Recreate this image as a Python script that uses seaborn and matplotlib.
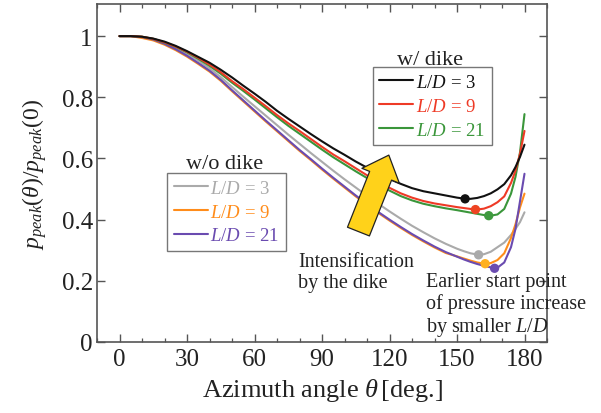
import numpy as np
import pandas as pd
import matplotlib
matplotlib.use("Agg")
import matplotlib.pyplot as plt
import seaborn as sns
from matplotlib.lines import Line2D
from matplotlib.patches import FancyArrowPatch, ArrowStyle
from matplotlib.ticker import MultipleLocator, FuncFormatter

# ---------------- data ----------------
theta = [0, 5, 10, 15, 20, 25, 30, 35, 40, 45, 50, 55, 60, 65, 70, 75, 80, 85, 90,
         95, 100, 105, 110, 115, 120, 125, 130, 135, 140, 145, 150, 153, 156, 159,
         162, 165, 168, 171, 174, 176, 178, 180]

dike_ld3 = [1.000, 1.000, 0.998, 0.992, 0.982, 0.968, 0.951, 0.932, 0.913, 0.890,
            0.865, 0.838, 0.812, 0.785, 0.756, 0.730, 0.705, 0.680, 0.656, 0.633,
            0.612, 0.590, 0.570, 0.551, 0.533, 0.517, 0.503, 0.493, 0.486, 0.479,
            0.472, 0.469, 0.468, 0.471, 0.477, 0.486, 0.499, 0.516, 0.545, 0.572,
            0.605, 0.645]
dike_ld9 = [1.000, 1.000, 0.998, 0.991, 0.980, 0.966, 0.949, 0.929, 0.907, 0.882,
            0.853, 0.827, 0.799, 0.771, 0.742, 0.715, 0.690, 0.664, 0.638, 0.613,
            0.591, 0.568, 0.545, 0.524, 0.504, 0.486, 0.472, 0.461, 0.453, 0.447,
            0.441, 0.438, 0.435, 0.433, 0.436, 0.444, 0.457, 0.476, 0.520, 0.560,
            0.615, 0.690]
dike_ld21 = [1.000, 1.000, 0.998, 0.991, 0.979, 0.965, 0.947, 0.926, 0.903, 0.877,
             0.848, 0.821, 0.793, 0.764, 0.735, 0.707, 0.681, 0.655, 0.629, 0.604,
             0.581, 0.558, 0.536, 0.515, 0.495, 0.477, 0.463, 0.452, 0.444, 0.437,
             0.431, 0.427, 0.423, 0.419, 0.415, 0.413, 0.417, 0.435, 0.485, 0.540,
             0.620, 0.745]
nodike_ld3 = [1.000, 1.000, 0.997, 0.990, 0.977, 0.961, 0.942, 0.920, 0.895, 0.866,
              0.834, 0.802, 0.771, 0.740, 0.709, 0.678, 0.648, 0.618, 0.589, 0.560,
              0.532, 0.505, 0.478, 0.452, 0.427, 0.403, 0.380, 0.359, 0.339, 0.321,
              0.305, 0.297, 0.290, 0.286, 0.287, 0.295, 0.310, 0.325, 0.350, 0.370,
              0.392, 0.424]
nodike_ld9 = [1.000, 1.000, 0.994, 0.986, 0.972, 0.954, 0.933, 0.909, 0.884, 0.854,
              0.820, 0.787, 0.754, 0.721, 0.689, 0.657, 0.625, 0.595, 0.564, 0.534,
              0.505, 0.476, 0.449, 0.422, 0.397, 0.373, 0.350, 0.329, 0.309, 0.291,
              0.280, 0.273, 0.266, 0.260, 0.256, 0.258, 0.268, 0.290, 0.340, 0.385,
              0.440, 0.485]
nodike_ld21 = [1.000, 1.000, 0.997, 0.989, 0.975, 0.957, 0.936, 0.912, 0.887, 0.857,
               0.823, 0.790, 0.757, 0.724, 0.692, 0.660, 0.628, 0.598, 0.567, 0.537,
               0.508, 0.479, 0.452, 0.425, 0.400, 0.376, 0.353, 0.332, 0.312, 0.294,
               0.279, 0.270, 0.262, 0.255, 0.249, 0.244, 0.243, 0.260, 0.310, 0.370,
               0.460, 0.550]

# minimum points (dots)
min_theta = [153.6, 158.2, 164.1, 159.6, 162.5, 166.7]
min_value = [0.468, 0.433, 0.413, 0.285, 0.256, 0.241]

series_names = ["dike3", "dike9", "dike21", "nodike3", "nodike9", "nodike21"]
series_vals = [dike_ld3, dike_ld9, dike_ld21, nodike_ld3, nodike_ld9, nodike_ld21]
ld_labels = ["3", "9", "21", "3", "9", "21"]
colors = {"dike3": "#111111", "dike9": "#EE3A26", "dike21": "#3A963A",
          "nodike3": "#AAAAAA", "nodike9": "#FF8C1A", "nodike21": "#6A4BB0"}
dot_colors = {"dike3": "#111111", "dike9": "#EE4422", "dike21": "#3F9A3F",
              "nodike3": "#AAAAAA", "nodike9": "#FFB020", "nodike21": "#6A4BB0"}

df = pd.DataFrame({
    "theta": np.tile(theta, len(series_names)),
    "ratio": np.concatenate(series_vals),
    "series": np.repeat(series_names, len(theta)),
})
dots = pd.DataFrame({"theta": min_theta, "ratio": min_value, "series": series_names})

# ---------------- style ----------------
sns.set_theme(style="ticks")
plt.rcParams["font.family"] = ["Liberation Serif", "DejaVu Serif"]
plt.rcParams["mathtext.fontset"] = "custom"
plt.rcParams["mathtext.rm"] = "Liberation Serif"
plt.rcParams["mathtext.it"] = "Liberation Serif:italic"
plt.rcParams["mathtext.bf"] = "Liberation Serif:bold"

fig = plt.figure(figsize=(6.01, 4.14), dpi=100)
ax = fig.add_axes([97 / 601, 1 - 343 / 414, 450 / 601, 338 / 414])

draw_order = ["nodike3", "nodike9", "nodike21", "dike21", "dike9", "dike3"]
for name in draw_order:
    sub = df[df["series"] == name]
    sns.lineplot(data=sub, x="theta", y="ratio", color=colors[name], lw=1.5,
                 estimator=None, sort=False, legend=False, ax=ax, zorder=3)

sns.scatterplot(data=dots, x="theta", y="ratio", hue="series", palette=dot_colors,
                s=45, edgecolor="none", legend=False, ax=ax, zorder=4)

ax.set_xlim(-10, 190)
ax.set_ylim(0, 1.105)
ax.xaxis.set_major_locator(MultipleLocator(30))
ax.xaxis.set_minor_locator(MultipleLocator(10))
ax.yaxis.set_major_locator(MultipleLocator(0.2))
ax.yaxis.set_major_formatter(FuncFormatter(
    lambda v, p: "0" if abs(v) < 1e-9 else ("1" if abs(v - 1) < 1e-9 else f"{v:.1f}")))
ax.tick_params(which="both", direction="in", top=True, right=True, colors="#555555",
               labelcolor="#222222", labelsize=18)
ax.tick_params(which="major", length=6, width=1.0)
ax.tick_params(which="minor", length=3, width=0.9)
ax.tick_params(axis="y", pad=3)
ax.tick_params(axis="x", pad=4)
for sp in ax.spines.values():
    sp.set_color("#555555")
    sp.set_linewidth(1.2)

ax.set_xlabel(r"Azimuth angle $\theta\,$[deg.]", fontsize=19, color="#222222", labelpad=5)
ax.set_ylabel(r"$p_{peak}(\theta)/p_{peak}(0)$", fontsize=17, color="#222222", labelpad=9)

# ---------------- legends ----------------
def make_handles(names):
    hs = []
    for n in names:
        l = ld_labels[series_names.index(n)]
        hs.append(Line2D([0], [0], color=colors[n], lw=1.5, label=rf"$L/D$ = {l}"))
    return hs

leg_kw = dict(fontsize=13.5, frameon=True, fancybox=False, borderaxespad=0,
              handlelength=1.8, handletextpad=0.15, labelspacing=0.36,
              borderpad=0.35, labelcolor="linecolor", loc="upper left")
leg1 = ax.legend(handles=make_handles(["nodike3", "nodike9", "nodike21"]),
                 bbox_to_anchor=(0.156, 0.50), **leg_kw)
leg1.get_frame().set_edgecolor("#555555")
leg1.get_frame().set_linewidth(1.0)
leg1.set_zorder(6)
ax.add_artist(leg1)
leg2 = ax.legend(handles=make_handles(["dike3", "dike9", "dike21"]),
                 bbox_to_anchor=(0.613, 0.813), **leg_kw)
leg2.get_frame().set_edgecolor("#555555")
leg2.get_frame().set_linewidth(1.0)
leg2.set_zorder(6)

ax.text(46.7, 0.582, "w/o dike", fontsize=16, ha="center", va="center", color="#222222")
ax.text(137.8, 0.925, "w/ dike", fontsize=16, ha="center", va="center", color="#222222")

# ---------------- annotations ----------------
arrow = FancyArrowPatch(posA=(106.2, 0.361), posB=(119.7, 0.611),
                        arrowstyle=ArrowStyle.Simple(head_length=16, head_width=29, tail_width=17),
                        shrinkA=0, shrinkB=0, mutation_scale=1,
                        fc="#FFD21A", ec="#222222", lw=0.9, zorder=5)
ax.add_patch(arrow)

ax.text(79.5, 0.230, "Intensification\nby the dike", fontsize=14.5, ha="left",
        va="center", linespacing=1.15, color="#222222")
ax.text(136, 0.121, "Earlier start point\nof pressure increase\nby smaller $L/D$",
        fontsize=14.5, ha="left", va="center", linespacing=1.15, color="#222222")

fig.savefig("out.png", dpi=100)
